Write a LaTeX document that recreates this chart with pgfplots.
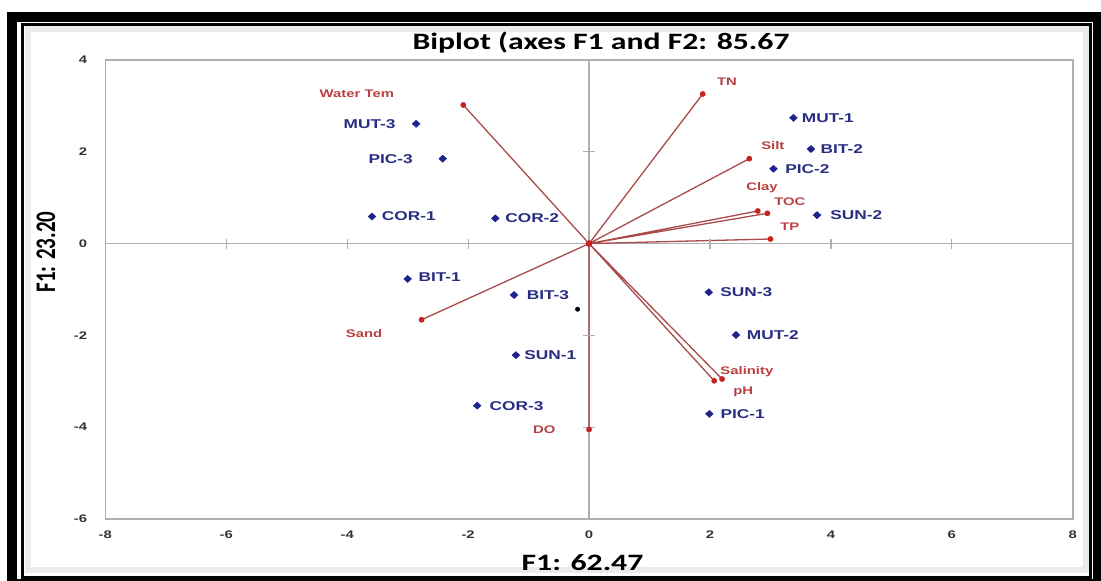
\documentclass[border=0pt]{standalone}
\usepackage{fontspec}
\usepackage{graphicx}
\usepackage{pgfplots}
\pgfplotsset{compat=1.18}
\setmainfont{Liberation Sans}
\newfontfamily\labfont[FakeStretch=1.35]{Liberation Sans}
\newfontfamily\titfont[FakeStretch=1.35]{Carlito}
\newfontfamily\ytitfont{Carlito}
\newcommand\tickfont{\labfont\bfseries\fontsize{11}{12}\selectfont}
\newcommand\ptfont{\labfont\bfseries\fontsize{12.8}{13}\selectfont}
\newcommand\vfont{\labfont\bfseries\fontsize{11}{12}\selectfont}
\definecolor{ptblue}{RGB}{30,35,140}
\definecolor{lblblue}{RGB}{40,45,130}
\definecolor{vecred}{RGB}{170,75,75}
\definecolor{lblred}{RGB}{185,65,65}
\definecolor{dotred}{RGB}{200,35,35}
\definecolor{axgray}{RGB}{175,175,175}
\begin{document}
\begin{tikzpicture}[x=1pt,y=1pt]
\path[use as bounding box] (0,0) rectangle (1101,581);
\fill[white] (0,0) rectangle (1101,581);
% inner shadow
\draw[black!8, line width=6pt] (27.5,11) rectangle (1085.5,551.5);
\begin{axis}[
  at={(105.3pt,62pt)}, anchor=south west,
  scale only axis, width=967.5pt, height=459pt,
  xmin=-8, xmax=8, ymin=-6, ymax=4,
  axis line style={axgray, line width=1.5pt},
  major tick length=0pt,
  xtick={-8,-6,...,8}, ytick={-6,-4,...,4},
  xticklabels={-8,-6,-4,-2,0,2,4,6,8},
  yticklabels={-6,-4,-2,0,2,4},
  tick label style={font=\tickfont, text=black!80, inner sep=0pt},
  xticklabel style={yshift=-12pt},
  yticklabel style={xshift=-18pt},
  clip=false,
  axis background/.style={fill=white},
]
% zero lines
\addplot[axgray, line width=1.5pt] coordinates {(-8,0) (8,0)};
\addplot[axgray, line width=1.5pt] coordinates {(0,-6) (0,4)};
\addplot[axgray, only marks, mark=|, mark size=5pt, mark options={line width=1.2pt}]
  coordinates {(-6,0) (-4,0) (-2,0) (2,0) (4,0) (6,0)};
\addplot[axgray, only marks, mark=-, mark size=6pt, mark options={line width=1.2pt}]
  coordinates {(0,2) (0,-2) (0,-4)};
% variable vectors
\addplot[vecred, line width=1.3pt, mark=*, mark size=2.2pt,
  mark options={fill=dotred, draw=dotred}, unbounded coords=jump] table {
x y
0 0
-2.08 3.02
nan nan
0 0
1.88 3.26
nan nan
0 0
2.65 1.85
nan nan
0 0
2.79 0.71
nan nan
0 0
2.95 0.66
nan nan
0 0
3.00 0.10
nan nan
0 0
-2.77 -1.66
nan nan
0 0
0 -4.05
nan nan
0 0
2.07 -2.99
nan nan
0 0
2.20 -2.95
};
% observations
\addplot[only marks, mark=diamond*, mark size=3.6pt, ptblue, mark options={xscale=1.45}] table {
x y
-2.86 2.61
-2.42 1.85
-3.59 0.59
-1.55 0.55
-3.00 -0.77
-1.24 -1.12
-1.21 -2.43
-1.85 -3.53
3.38 2.74
3.67 2.06
3.05 1.63
3.77 0.62
1.98 -1.06
2.43 -1.99
1.99 -3.71
};
\addplot[only marks, mark=*, mark size=2.2pt, black] coordinates {(-0.19,-1.43)};
% observation labels
\addplot[only marks, mark=*, mark size=0pt, mark options={draw=none,fill=none},
  nodes near coords, point meta=explicit symbolic,
  nodes near coords align={center},
  every node near coord/.style={anchor=center, inner sep=0pt, font=\ptfont, text=lblblue}]
  table[meta=lab, col sep=comma] {
x,y,lab
-3.63,2.61,MUT-3
-3.28,1.85,PIC-3
-2.98,0.59,COR-1
-0.94,0.55,COR-2
-2.47,-0.73,BIT-1
-0.68,-1.12,BIT-3
-0.64,-2.43,SUN-1
-1.20,-3.53,COR-3
3.95,2.74,MUT-1
4.18,2.06,BIT-2
3.61,1.63,PIC-2
4.42,0.62,SUN-2
2.60,-1.05,SUN-3
3.04,-1.99,MUT-2
2.54,-3.71,PIC-1
};
% variable labels
\addplot[only marks, mark=*, mark size=0pt, mark options={draw=none,fill=none},
  nodes near coords, point meta=explicit symbolic,
  nodes near coords align={center},
  every node near coord/.style={anchor=center, inner sep=0pt, font=\vfont, text=lblred}]
  table[meta=lab, col sep=comma] {
x,y,lab
-3.84,3.26,Water Tem
2.28,3.53,TN
3.04,2.13,Silt
2.86,1.21,Clay
3.32,0.91,TOC
3.32,0.37,TP
-3.72,-1.95,Sand
-0.74,-4.05,DO
2.61,-2.80,Salinity
2.55,-3.23,pH
};
\end{axis}
% titles
\node[anchor=base, inner sep=0pt, font=\titfont\bfseries\fontsize{23.5}{26}\selectfont] at (601,531) {Biplot (axes F1 and F2: 85.67};
\node[anchor=base, inner sep=0pt, font=\titfont\bfseries\fontsize{23.5}{26}\selectfont] at (582.5,10) {F1: 62.47};
\node[rotate=90, anchor=center, inner sep=0pt] at (46,329) {\scalebox{1}[1.35]{\ytitfont\bfseries\fontsize{21}{24}\selectfont F1: 23.20}};
% frame
\draw[black, line width=10pt] (12,-3) -- (12,563.5) -- (1098,563.5) -- (1098,-3);
\draw[black, line width=5pt] (7,-0.5) -- (1101,-0.5);
\draw[black, line width=2.8pt] (22.3,3.5) rectangle (1090.5,556.5);
\end{tikzpicture}
\end{document}
